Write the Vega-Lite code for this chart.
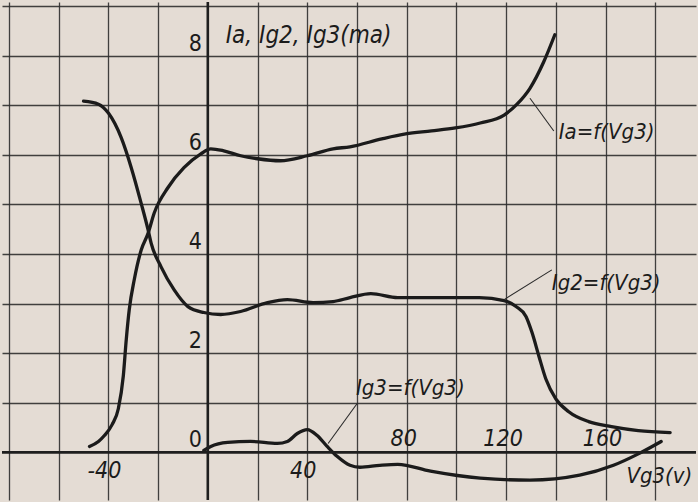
{
  "$schema": "https://vega.github.io/schema/vega-lite/v6.json",
  "width": 698,
  "height": 502,
  "autosize": {"type": "fit", "contains": "padding"},
  "padding": 0,
  "background": "#e4dcd4",
  "config": {
    "view": {"stroke": null},
    "axis": {"gridColor": "#2e2e2e", "gridWidth": 1.3, "gridOpacity": 0.9}
  },
  "datasets": {
    "curves": [
      {"curve": "Ia", "v": -47.6, "i": 0.12}, {"curve": "Ia", "v": -44, "i": 0.22},
      {"curve": "Ia", "v": -41.6, "i": 0.34}, {"curve": "Ia", "v": -38.5, "i": 0.56},
      {"curve": "Ia", "v": -36, "i": 0.88}, {"curve": "Ia", "v": -34, "i": 1.54},
      {"curve": "Ia", "v": -32.8, "i": 2.28}, {"curve": "Ia", "v": -31.6, "i": 2.88},
      {"curve": "Ia", "v": -29.6, "i": 3.48}, {"curve": "Ia", "v": -26.8, "i": 4.08},
      {"curve": "Ia", "v": -24, "i": 4.42}, {"curve": "Ia", "v": -21.6, "i": 4.82},
      {"curve": "Ia", "v": -16, "i": 5.34}, {"curve": "Ia", "v": -9.6, "i": 5.74},
      {"curve": "Ia", "v": -2.8, "i": 6.02}, {"curve": "Ia", "v": 1.2, "i": 6.12},
      {"curve": "Ia", "v": 6.4, "i": 6.08}, {"curve": "Ia", "v": 13.2, "i": 5.98},
      {"curve": "Ia", "v": 20, "i": 5.92}, {"curve": "Ia", "v": 29.2, "i": 5.88},
      {"curve": "Ia", "v": 40, "i": 5.98}, {"curve": "Ia", "v": 50.4, "i": 6.12},
      {"curve": "Ia", "v": 57.2, "i": 6.16}, {"curve": "Ia", "v": 70, "i": 6.32},
      {"curve": "Ia", "v": 79.6, "i": 6.42}, {"curve": "Ia", "v": 90, "i": 6.48},
      {"curve": "Ia", "v": 99.6, "i": 6.54}, {"curve": "Ia", "v": 109.6, "i": 6.64},
      {"curve": "Ia", "v": 119.2, "i": 6.8}, {"curve": "Ia", "v": 124.4, "i": 7.02},
      {"curve": "Ia", "v": 129.6, "i": 7.34}, {"curve": "Ia", "v": 135.2, "i": 7.88},
      {"curve": "Ia", "v": 139.6, "i": 8.42},
      {"curve": "Ig2", "v": -50, "i": 7.08}, {"curve": "Ig2", "v": -44, "i": 7.02},
      {"curve": "Ig2", "v": -40, "i": 6.84}, {"curve": "Ig2", "v": -34.8, "i": 6.34},
      {"curve": "Ig2", "v": -30.8, "i": 5.74}, {"curve": "Ig2", "v": -26.8, "i": 5.02},
      {"curve": "Ig2", "v": -24, "i": 4.48}, {"curve": "Ig2", "v": -22.8, "i": 4.22},
      {"curve": "Ig2", "v": -18.8, "i": 3.74}, {"curve": "Ig2", "v": -13.6, "i": 3.28},
      {"curve": "Ig2", "v": -8, "i": 2.94}, {"curve": "Ig2", "v": -1.6, "i": 2.82},
      {"curve": "Ig2", "v": 5.2, "i": 2.78}, {"curve": "Ig2", "v": 13.2, "i": 2.84},
      {"curve": "Ig2", "v": 24, "i": 3.02}, {"curve": "Ig2", "v": 32, "i": 3.08},
      {"curve": "Ig2", "v": 42.4, "i": 3.02}, {"curve": "Ig2", "v": 50.4, "i": 3.04},
      {"curve": "Ig2", "v": 57.2, "i": 3.12}, {"curve": "Ig2", "v": 65.6, "i": 3.2},
      {"curve": "Ig2", "v": 76.4, "i": 3.12}, {"curve": "Ig2", "v": 96.4, "i": 3.12},
      {"curve": "Ig2", "v": 109.2, "i": 3.12}, {"curve": "Ig2", "v": 119.2, "i": 3.06},
      {"curve": "Ig2", "v": 124, "i": 2.94}, {"curve": "Ig2", "v": 128, "i": 2.74},
      {"curve": "Ig2", "v": 130.4, "i": 2.42}, {"curve": "Ig2", "v": 133.2, "i": 1.94},
      {"curve": "Ig2", "v": 136, "i": 1.48}, {"curve": "Ig2", "v": 140, "i": 1.08},
      {"curve": "Ig2", "v": 145.2, "i": 0.82}, {"curve": "Ig2", "v": 153.2, "i": 0.62},
      {"curve": "Ig2", "v": 162.4, "i": 0.52}, {"curve": "Ig2", "v": 173.2, "i": 0.44},
      {"curve": "Ig2", "v": 186, "i": 0.4},
      {"curve": "Ig3", "v": -1.6, "i": 0.04}, {"curve": "Ig3", "v": 1.2, "i": 0.12},
      {"curve": "Ig3", "v": 8, "i": 0.2}, {"curve": "Ig3", "v": 17.2, "i": 0.22},
      {"curve": "Ig3", "v": 28, "i": 0.18}, {"curve": "Ig3", "v": 32, "i": 0.22},
      {"curve": "Ig3", "v": 36, "i": 0.38}, {"curve": "Ig3", "v": 40, "i": 0.46},
      {"curve": "Ig3", "v": 44, "i": 0.34}, {"curve": "Ig3", "v": 48, "i": 0.12},
      {"curve": "Ig3", "v": 52, "i": -0.08}, {"curve": "Ig3", "v": 57.2, "i": -0.26},
      {"curve": "Ig3", "v": 61.2, "i": -0.3}, {"curve": "Ig3", "v": 69.2, "i": -0.26},
      {"curve": "Ig3", "v": 76.4, "i": -0.24}, {"curve": "Ig3", "v": 89.6, "i": -0.38},
      {"curve": "Ig3", "v": 109.6, "i": -0.52}, {"curve": "Ig3", "v": 129.6, "i": -0.56},
      {"curve": "Ig3", "v": 149.6, "i": -0.46}, {"curve": "Ig3", "v": 163.2, "i": -0.26},
      {"curve": "Ig3", "v": 173.6, "i": -0.02}, {"curve": "Ig3", "v": 182.4, "i": 0.22}
    ],
    "leaders": [
      {"id": "Ia", "v": 129.6, "i": 7.14}, {"id": "Ia", "v": 139.2, "i": 6.48},
      {"id": "Ig2", "v": 119.2, "i": 3.08}, {"id": "Ig2", "v": 138.4, "i": 3.68},
      {"id": "Ig3", "v": 48.4, "i": 0.18}, {"id": "Ig3", "v": 60, "i": 0.98}
    ],
    "heading": [
      {"label": "Ia, Ig2, Ig3(ma)", "v": 7.2, "i": 8.4}
    ],
    "notes": [
      {"label": "Ia=f(Vg3)", "v": 141.2, "i": 6.46},
      {"label": "Ig2=f(Vg3)", "v": 138.4, "i": 3.42},
      {"label": "Ig3=f(Vg3)", "v": 59.6, "i": 1.3},
      {"label": "Vg3(v)", "v": 168.4, "i": -0.48}
    ],
    "yTicks": [
      {"i": 0, "label": "0"}, {"i": 2, "label": "2"}, {"i": 4, "label": "4"},
      {"i": 6, "label": "6"}, {"i": 8, "label": "8"}
    ],
    "xTicks": [
      {"v": -40, "label": "-40"}, {"v": 40, "label": "40"}, {"v": 80, "label": "80"},
      {"v": 120, "label": "120"}, {"v": 160, "label": "160"}
    ]
  },
  "layer": [
    {
      "data": {"name": "curves"},
      "mark": {"type": "line", "interpolate": "monotone", "strokeWidth": 3.3, "color": "#1b1b1b", "strokeCap": "round"},
      "encoding": {
        "x": {"field": "v", "type": "quantitative", "title": null,
              "scale": {"domain": [-82.8, 196.4], "nice": false, "zero": false},
              "axis": {"values": [-80, -60, -40, -20, 20, 40, 60, 80, 100, 120, 140, 160, 180],
                       "grid": true, "labels": false, "ticks": false, "domain": false, "title": null}},
        "y": {"field": "i", "type": "quantitative", "title": null,
              "scale": {"domain": [-0.96, 9.08], "nice": false, "zero": false},
              "axis": {"values": [1, 2, 3, 4, 5, 6, 7, 8, 9],
                       "grid": true, "labels": false, "ticks": false, "domain": false, "title": null}},
        "detail": {"field": "curve"}
      }
    },
    {
      "data": {"values": [{"v": 0}]},
      "mark": {"type": "rule", "strokeWidth": 2.6, "color": "#1e1e1e"},
      "encoding": {"x": {"field": "v", "type": "quantitative", "title": null}}
    },
    {
      "data": {"values": [{"i": 0}]},
      "mark": {"type": "rule", "strokeWidth": 2.6, "color": "#1e1e1e"},
      "encoding": {"y": {"field": "i", "type": "quantitative", "title": null}}
    },
    {
      "data": {"name": "leaders"},
      "mark": {"type": "line", "strokeWidth": 1.1, "color": "#2a2a2a"},
      "encoding": {
        "x": {"field": "v", "type": "quantitative", "title": null},
        "y": {"field": "i", "type": "quantitative", "title": null},
        "detail": {"field": "id"}
      }
    },
    {
      "data": {"name": "heading"},
      "mark": {"type": "text", "align": "left", "baseline": "middle", "font": "DejaVu Sans Condensed, DejaVu Sans",
               "fontSize": 24, "fontStyle": "italic", "color": "#1b1b1b"},
      "encoding": {
        "x": {"field": "v", "type": "quantitative", "title": null},
        "y": {"field": "i", "type": "quantitative", "title": null},
        "text": {"field": "label"}
      }
    },
    {
      "data": {"name": "notes"},
      "mark": {"type": "text", "align": "left", "baseline": "middle", "font": "DejaVu Sans Condensed, DejaVu Sans",
               "fontSize": 22, "fontStyle": "italic", "color": "#1b1b1b"},
      "encoding": {
        "x": {"field": "v", "type": "quantitative", "title": null},
        "y": {"field": "i", "type": "quantitative", "title": null},
        "text": {"field": "label"}
      }
    },
    {
      "data": {"name": "yTicks"},
      "mark": {"type": "text", "align": "right", "baseline": "alphabetic", "dx": -6, "dy": -5,
               "font": "DejaVu Sans Condensed, DejaVu Sans", "fontSize": 23, "color": "#1b1b1b"},
      "encoding": {
        "x": {"datum": 0, "type": "quantitative"},
        "y": {"field": "i", "type": "quantitative", "title": null},
        "text": {"field": "label"}
      }
    },
    {
      "data": {"name": "xTicks"},
      "transform": [{"filter": "datum.v < 60"}],
      "mark": {"type": "text", "align": "center", "baseline": "alphabetic", "dx": -4, "dy": 26,
               "font": "DejaVu Sans Condensed, DejaVu Sans", "fontSize": 23, "fontStyle": "italic", "color": "#1b1b1b"},
      "encoding": {
        "x": {"field": "v", "type": "quantitative", "title": null},
        "y": {"datum": 0, "type": "quantitative"},
        "text": {"field": "label"}
      }
    },
    {
      "data": {"name": "xTicks"},
      "transform": [{"filter": "datum.v > 60"}],
      "mark": {"type": "text", "align": "center", "baseline": "alphabetic", "dx": -3, "dy": -6,
               "font": "DejaVu Sans Condensed, DejaVu Sans", "fontSize": 23, "fontStyle": "italic", "color": "#1b1b1b"},
      "encoding": {
        "x": {"field": "v", "type": "quantitative", "title": null},
        "y": {"datum": 0, "type": "quantitative"},
        "text": {"field": "label"}
      }
    }
  ]
}
